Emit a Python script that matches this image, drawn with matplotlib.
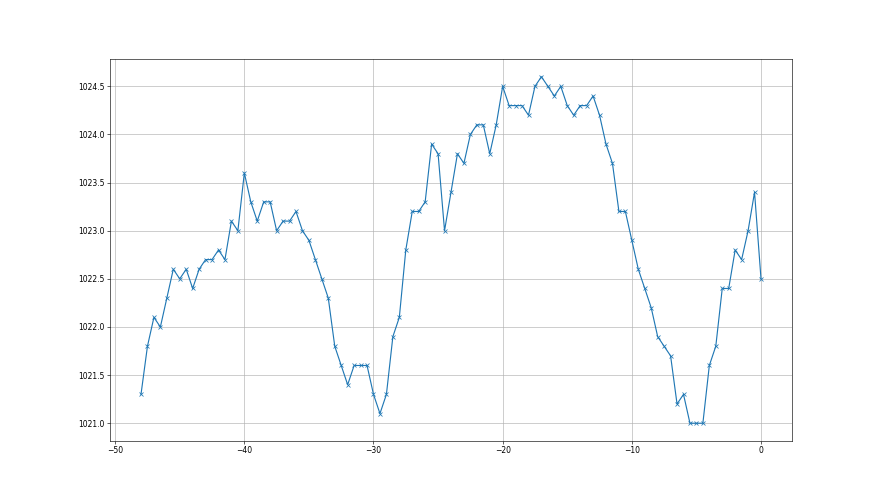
import numpy as np
import matplotlib
matplotlib.use('Agg')
import matplotlib.pyplot as plt

# hours relative to now, half-hour steps
hours = np.arange(-48, 0.01, 0.5)

# pressure readings (hPa)
pressure = [
    1021.3, 1021.8, 1022.1, 1022.0, 1022.3, 1022.6, 1022.5, 1022.6, 1022.4, 1022.6,
    1022.7, 1022.7, 1022.8, 1022.7, 1023.1, 1023.0, 1023.6, 1023.3, 1023.1, 1023.3,
    1023.3, 1023.0, 1023.1, 1023.1, 1023.2, 1023.0, 1022.9, 1022.7, 1022.5, 1022.3,
    1021.8, 1021.6, 1021.4, 1021.6, 1021.6, 1021.6, 1021.3, 1021.1, 1021.3, 1021.9,
    1022.1, 1022.8, 1023.2, 1023.2, 1023.3, 1023.9, 1023.8, 1023.0, 1023.4, 1023.8,
    1023.7, 1024.0, 1024.1, 1024.1, 1023.8, 1024.1, 1024.5, 1024.3, 1024.3, 1024.3,
    1024.2, 1024.5, 1024.6, 1024.5, 1024.4, 1024.5, 1024.3, 1024.2, 1024.3, 1024.3,
    1024.4, 1024.2, 1023.9, 1023.7, 1023.2, 1023.2, 1022.9, 1022.6, 1022.4, 1022.2,
    1021.9, 1021.8, 1021.7, 1021.2, 1021.3, 1021.0, 1021.0, 1021.0, 1021.6, 1021.8,
    1022.4, 1022.4, 1022.8, 1022.7, 1023.0, 1023.4, 1022.5,
]

fig, ax = plt.subplots(figsize=(16, 9), dpi=55)
ax.plot(hours, pressure, marker='x')
ax.grid(True)
ax.ticklabel_format(axis='y', useOffset=False)

plt.savefig('out.png', dpi=55)
